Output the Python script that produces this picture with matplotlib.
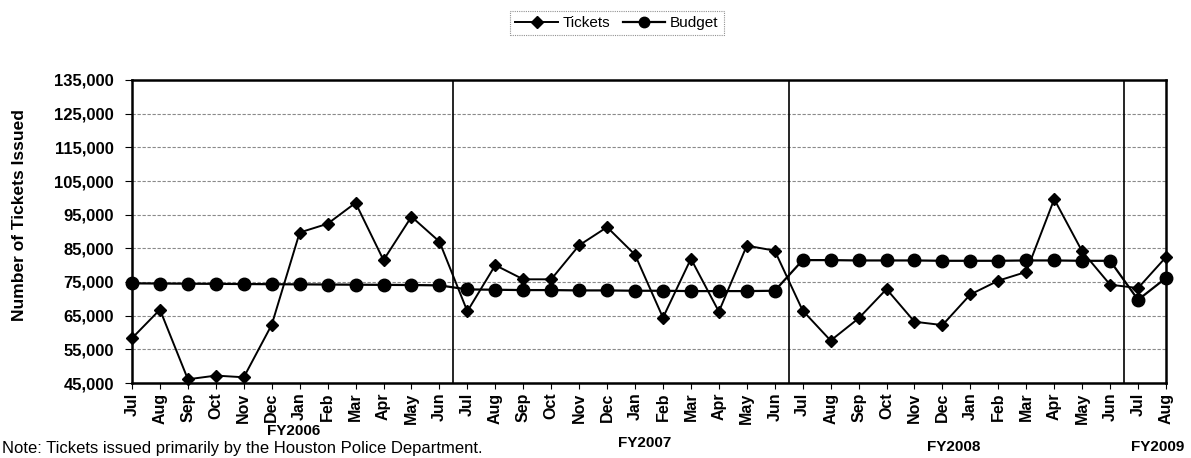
import matplotlib
matplotlib.use("Agg")
import matplotlib.pyplot as plt
from matplotlib.ticker import FuncFormatter
from matplotlib.lines import Line2D

plt.rcParams['font.family'] = ['Liberation Sans', 'DejaVu Sans']

months = ["Jul", "Aug", "Sep", "Oct", "Nov", "Dec", "Jan", "Feb", "Mar", "Apr", "May", "Jun",
          "Jul", "Aug", "Sep", "Oct", "Nov", "Dec", "Jan", "Feb", "Mar", "Apr", "May", "Jun",
          "Jul", "Aug", "Sep", "Oct", "Nov", "Dec", "Jan", "Feb", "Mar", "Apr", "May", "Jun",
          "Jul", "Aug"]

fiscal_years = ["FY2006", "FY2007", "FY2008", "FY2009"]

tickets = [58300, 66800, 46100, 47200, 46700, 62300, 89700, 92300, 98500, 81500, 94400, 87000,
           66300, 80000, 75800, 75800, 85900, 91300, 83100, 64400, 81900, 66200, 85800, 84300,
           66500, 57600, 64200, 72900, 63200, 62200, 71300, 75400, 78000, 99600, 84100, 74200,
           73200, 82400]

budget = [74600, 74550, 74500, 74450, 74400, 74350, 74300, 74250, 74200, 74150, 74100, 74000,
          72800, 72700, 72600, 72600, 72500, 72500, 72400, 72400, 72300, 72300, 72300, 72400,
          81500, 81500, 81400, 81400, 81400, 81300, 81300, 81300, 81400, 81400, 81300, 81300,
          69700, 76200]

y_ticks = [45000, 55000, 65000, 75000, 85000, 95000, 105000, 115000, 125000, 135000]

W, H = 1191, 458
fig = plt.figure(figsize=(W / 100, H / 100), dpi=100)
ax = fig.add_axes([132 / W, 1 - 383 / H, 1034 / W, (383 - 80) / H])

x = list(range(len(months)))
ax.plot(x, tickets, color='black', lw=1.4, marker='D', markersize=6.5, clip_on=False, zorder=4,
        label='Tickets')
ax.plot(x, budget, color='black', lw=1.6, marker='o', markersize=9, clip_on=False, zorder=3,
        label='Budget')

ax.set_xlim(0, len(months) - 1)
ax.set_ylim(y_ticks[0], y_ticks[-1])
ax.set_yticks(y_ticks)
ax.yaxis.set_major_formatter(FuncFormatter(lambda v, p: f"{int(v):,}"))
ax.set_xticks(x)
ax.set_xticklabels(months, rotation=90, fontsize=11.5, fontweight='bold')
for lab in ax.get_yticklabels():
    lab.set_fontweight('bold')
    lab.set_fontsize(12)
ax.tick_params(axis='x', direction='out', length=4, width=0.8, pad=3)
ax.tick_params(axis='y', direction='out', length=5, width=0.8, pad=8)

ax.yaxis.grid(True, linestyle=(0, (3, 1.5)), color='#8a8a8a', lw=0.8)
ax.set_axisbelow(True)

for s in ax.spines.values():
    s.set_linewidth(1.8)
    s.set_color('black')

# fiscal year separators (between Jun and Jul)
for i in range(1, len(months)):
    if months[i] == "Jul":
        ax.axvline(i - 0.5, color='black', lw=1.2, zorder=2)

fig.text(20 / W, 1 - 215 / H, "Number of Tickets Issued", rotation=90, ha='center', va='center',
         fontsize=12.5, fontweight='bold')

# fiscal-year labels
fy_pos = [(294, 431), (645, 443), (954, 447), (1158, 447)]
for name, (px, py) in zip(fiscal_years, fy_pos):
    fig.text(px / W, 1 - py / H, name, ha='center', va='center', fontsize=11, fontweight='bold')

# legend
handles = [Line2D([0], [0], color='black', lw=1.4, marker='D', markersize=6),
           Line2D([0], [0], color='black', lw=1.6, marker='o', markersize=7.5)]
leg = fig.legend(handles, ['Tickets', 'Budget'], loc='center', bbox_to_anchor=(617 / W, 1 - 23 / H),
                 ncol=2, frameon=True, fancybox=False, fontsize=11, handlelength=2.8,
                 columnspacing=0.8, handletextpad=0.3, borderpad=0.35)
leg.get_frame().set_edgecolor('#777777')
leg.get_frame().set_linestyle((0, (1, 1)))
leg.get_frame().set_linewidth(0.8)

fig.text(2 / W, 1 - 456 / H, "Note: Tickets issued primarily by the Houston Police Department.",
         ha='left', va='bottom', fontsize=12)

fig.savefig("out.png", dpi=100)
